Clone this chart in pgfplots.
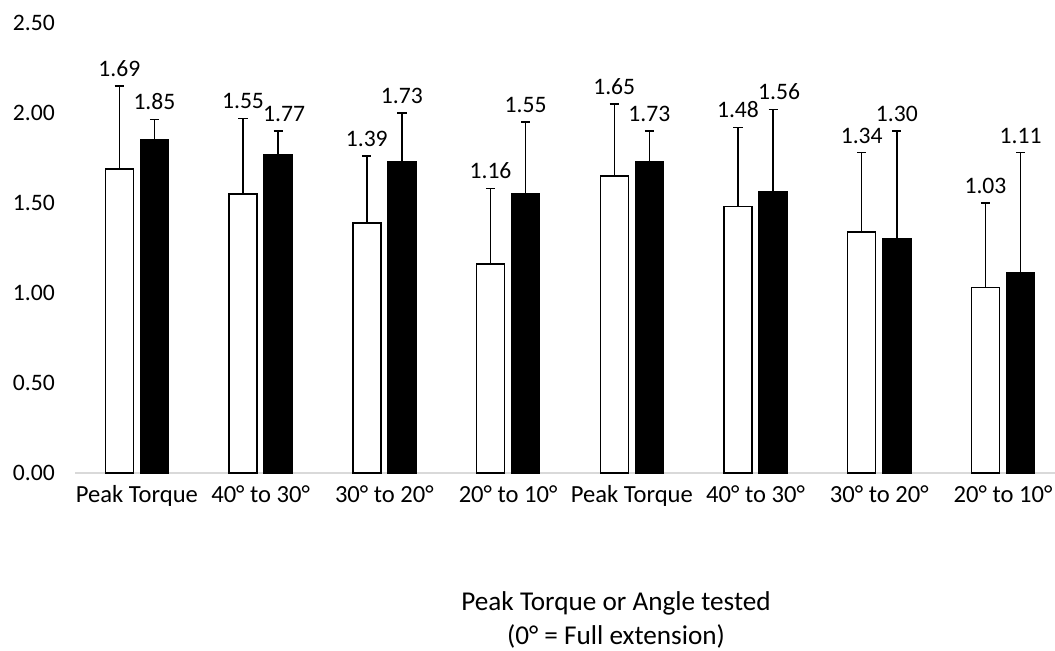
\documentclass[border=0pt]{standalone}
\usepackage{pgfplots}
\pgfplotsset{compat=1.18}
\usepackage{fontspec}
\setmainfont{Carlito}
\begin{document}
\fontsize{11.8}{14.2}\selectfont
\begin{tikzpicture}
\begin{axis}[
  at={(0,0)}, anchor=south west,
  scale only axis,
  width=490pt, height=225pt,
  xmin=-0.5, xmax=7.42,
  ymin=0, ymax=2.5,
  ytick={0,0.5,1,1.5,2,2.5},
  yticklabel style={/pgf/number format/fixed,/pgf/number format/fixed zerofill,/pgf/number format/precision=2, /pgf/number format/assume math mode=true, xshift=-6pt, font=\fontsize{11.8}{14}\selectfont},
  xtick={0,...,7},
  xticklabels={Peak Torque,40° to 30°,30° to 20°,20° to 10°,Peak Torque,40° to 30°,30° to 20°,20° to 10°},
  xticklabel style={yshift=-2pt, font=\fontsize{12.3}{14}\selectfont},
  major tick length=0pt,
  axis x line*=bottom, axis y line*=left,
  x axis line style={draw=black!15, line width=0.8pt, -},
  y axis line style={draw=none},
  clip=false,
  ybar, bar width=14pt, bar shift=0pt,
]
% white bars
\addplot[fill=white, draw=black, line width=0.75pt,
  error bars/.cd, y dir=plus, y explicit,
  error bar style={line width=0.75pt, black},
  error mark options={rotate=90, mark size=2.3pt, line width=0.75pt, black}]
  coordinates {
  (-0.142,1.69) +- (0,0.46)
  (0.858,1.55) +- (0,0.42)
  (1.858,1.39) +- (0,0.37)
  (2.858,1.16) +- (0,0.42)
  (3.858,1.65) +- (0,0.40)
  (4.858,1.48) +- (0,0.44)
  (5.858,1.34) +- (0,0.44)
  (6.858,1.03) +- (0,0.47)
  };
% black bars
\addplot[fill=black, draw=black, line width=0.75pt,
  error bars/.cd, y dir=plus, y explicit,
  error bar style={line width=0.75pt, black},
  error mark options={rotate=90, mark size=2.3pt, line width=0.75pt, black}]
  coordinates {
  (0.142,1.85) +- (0,0.115)
  (1.142,1.77) +- (0,0.13)
  (2.142,1.73) +- (0,0.27)
  (3.142,1.55) +- (0,0.40)
  (4.142,1.73) +- (0,0.17)
  (5.142,1.56) +- (0,0.46)
  (6.142,1.30) +- (0,0.60)
  (7.142,1.11) +- (0,0.67)
  };
% value labels above error bars
\addplot[draw=none, mark=none, forget plot,
  nodes near coords, point meta=explicit symbolic,
  every node near coord/.append style={anchor=south, inner sep=4.5pt, font=\fontsize{11.8}{14}\selectfont}]
  coordinates {
  (-0.142,2.15) [1.69]
  (0.142,1.965) [1.85]
  (0.858,1.97) [1.55]
  (1.19,1.90) [1.77]
  (1.858,1.76) [1.39]
  (2.142,2.00) [1.73]
  (2.858,1.585) [1.16]
  (3.142,1.95) [1.55]
  (3.858,2.05) [1.65]
  (4.142,1.90) [1.73]
  (4.858,1.92) [1.48]
  (5.19,2.02) [1.56]
  (5.858,1.78) [1.34]
  (6.142,1.90) [1.30]
  (6.858,1.50) [1.03]
  (7.142,1.78) [1.11]
  };
\end{axis}
\node[align=center, inner sep=0pt, font=\fontsize{13.6}{17}\selectfont] at (270.5pt,-73.5pt) {Peak Torque or Angle tested\\(0° = Full extension)};
\pgfresetboundingbox
\path[use as bounding box] (-37.5pt,-88.5pt) rectangle (490pt,236.5pt);
\end{tikzpicture}
\end{document}
